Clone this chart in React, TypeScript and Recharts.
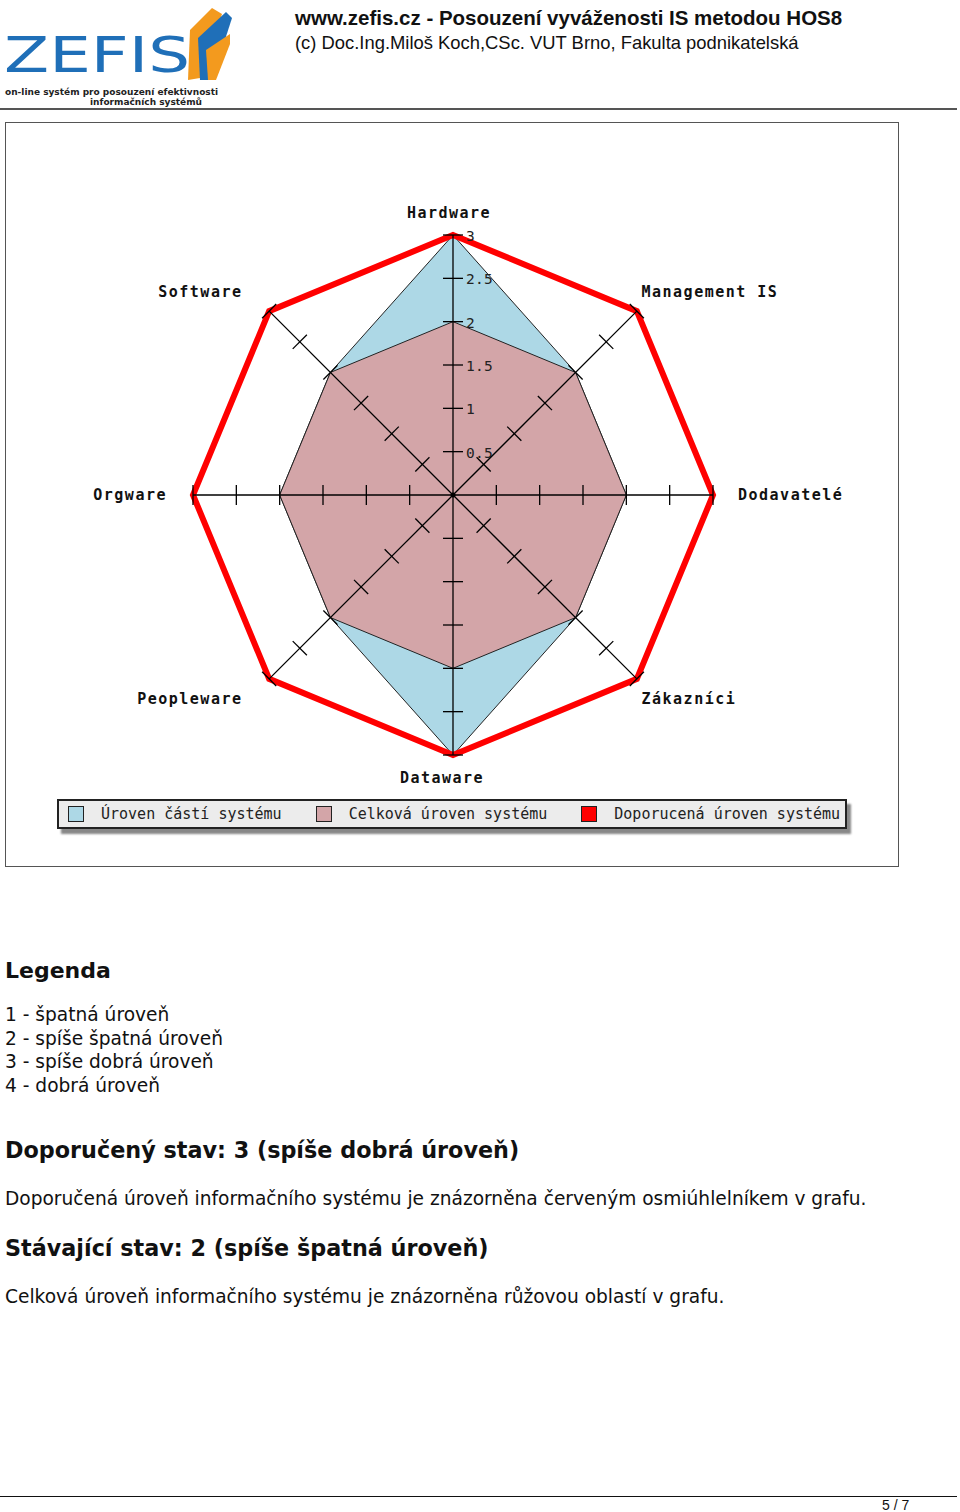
import { RadarChart, Radar, PolarAngleAxis, PolarRadiusAxis, Legend } from "recharts";

const oblasti = [
  "Hardware",
  "Management IS",
  "Dodavatelé",
  "Zákazníci",
  "Dataware",
  "Peopleware",
  "Orgware",
  "Software",
];
const urovenCasti = [3, 2, 2, 2, 3, 2, 2, 2];
const celkovaUroven = [2, 2, 2, 2, 2, 2, 2, 2];
const doporucenaUroven = [3, 3, 3, 3, 3, 3, 3, 3];
const radiusTicks = [0, 0.5, 1, 1.5, 2, 2.5, 3];
const radiusTickLabels = ["", "0.5", "1", "1.5", "2", "2.5", "3"];

const poradiSerii = ["casti", "celkova", "doporucena"];
const nazvySerii: Record<string, string> = {
  casti: "Úroven částí systému",
  celkova: "Celková úroven systému",
  doporucena: "Doporucená úroven systému",
};

const data = oblasti.map((nazev, i) => ({
  nazev,
  casti: urovenCasti[i],
  celkova: celkovaUroven[i],
  doporucena: doporucenaUroven[i],
}));

const MODRA = "#add8e6";
const RUZOVA = "#d3a5a8";
const CERVENA = "#ff0000";
const barvy: Record<string, string> = { casti: MODRA, celkova: RUZOVA, doporucena: CERVENA };

const mono = "'DejaVu Sans Mono', monospace";
const sans = "'DejaVu Sans', sans-serif";
const arial = "'Liberation Sans', Arial, sans-serif";

const CX = 447;
const CY = 372;
const uhly = oblasti.map((_, i) => 90 - i * 45);

// ticks of the vertical (Hardware) radius axis; the same radius is marked on every spoke
function radiusTick(props: any) {
  const { x, y, payload } = props;
  const v = payload.value;
  if (v === 0) return <circle cx={x} cy={y} r={2.5} fill="#000" />;
  const r = CY - y;
  const idx = radiusTicks.indexOf(v);
  return (
    <g>
      {uhly.map((a) => {
        const rad = (a * Math.PI) / 180;
        const tx = CX + r * Math.cos(rad);
        const ty = CY - r * Math.sin(rad);
        const px = Math.sin(rad) * 10;
        const py = Math.cos(rad) * 10;
        return (
          <g key={a}>
            {v === 3 && a !== 90 && (
              <line x1={CX} y1={CY} x2={tx} y2={ty} stroke="#000" strokeWidth={1.3} />
            )}
            <line x1={tx - px} y1={ty - py} x2={tx + px} y2={ty + py} stroke="#000" strokeWidth={1.3} />
          </g>
        );
      })}
      <text x={x + 13} y={y + 6} fontFamily={mono} fontSize={14.5} fill="#222" letterSpacing={0.3}>
        {radiusTickLabels[idx]}
      </text>
    </g>
  );
}

function angleTick(props: any) {
  const { x, y, payload } = props;
  const dx = x - CX;
  const dy = y - CY;
  let anchor: "start" | "middle" | "end" = "middle";
  let ox = 0;
  let oy = 0;
  if (Math.abs(dx) < 2) {
    if (dy < 0) {
      ox = -4;
      oy = -9;
    } else {
      ox = -11;
      oy = 20;
    }
  } else if (Math.abs(dy) < 2) {
    if (dx > 0) {
      anchor = "start";
      ox = 17;
    } else {
      anchor = "end";
      ox = -18;
    }
    oy = 5;
  } else {
    if (dx > 0) {
      anchor = "start";
      ox = -1;
    } else {
      anchor = "end";
      ox = -21;
    }
    oy = dy < 0 ? -8 : 19;
  }
  return (
    <text
      x={x + ox}
      y={y + oy}
      textAnchor={anchor}
      fontFamily={mono}
      fontWeight="bold"
      fontSize={15}
      letterSpacing={1.5}
      fill="#111"
    >
      {payload.value}
    </text>
  );
}

function LegendContent(props: any) {
  const payload: any[] = props.payload || [];
  const polozky = poradiSerii
    .map((k) => payload.find((e) => e.dataKey === k))
    .filter(Boolean);
  return (
    <div
      style={{
        display: "flex",
        alignItems: "center",
        height: 30,
        width: 790,
        background: "#ececec",
        border: "2px solid #222",
        boxShadow: "4px 5px 2px #888",
        paddingLeft: 9,
        boxSizing: "border-box",
        fontFamily: mono,
        fontSize: 15,
        color: "#222",
        whiteSpace: "nowrap",
      }}
    >
      {polozky.map((e: any) => (
        <div key={e.dataKey} style={{ display: "flex", alignItems: "center", marginRight: 34, flex: "none" }}>
          <span
            style={{
              display: "inline-block",
              width: 14,
              height: 14,
              background: barvy[e.dataKey],
              border: "1.5px solid #222",
              marginRight: 17,
            }}
          />
          <span>{e.value}</span>
        </div>
      ))}
    </div>
  );
}

export default function App() {
  return (
    <div style={{ position: "absolute", left: 0, top: 0, width: 960, height: 1512, background: "#fff" }}>
      {/* logo */}
      <svg style={{ position: "absolute", left: 0, top: 0 }} width={240} height={108}>
        <text x={4} y={72} fontFamily={sans} fontSize={50} fill="#1f6fb8" textLength={186} lengthAdjust="spacingAndGlyphs">
          ZEFIS
        </text>
        <polygon points="190,30 212,8 222,14 200,78 188,80" fill="#f39a1e" />
        <polygon points="198,38 226,12 232,18 212,80 200,80" fill="#1f6fb8" />
        <polygon points="206,50 230,34 230,44 216,80 208,80" fill="#f39a1e" />
        <text x={5} y={95} fontFamily={sans} fontSize={9} fill="#222" fontWeight="bold">
          on-line systém pro posouzení efektivnosti
        </text>
        <text x={90} y={105} fontFamily={sans} fontSize={9} fill="#222" fontWeight="bold">
          informačních systémů
        </text>
      </svg>
      <div style={{ position: "absolute", left: 295, top: 6, fontFamily: arial, fontSize: 20.5, fontWeight: "bold", color: "#111", whiteSpace: "nowrap" }}>
        www.zefis.cz - Posouzení vyváženosti IS metodou HOS8
      </div>
      <div style={{ position: "absolute", left: 295, top: 32, fontFamily: arial, fontSize: 18.4, color: "#111", whiteSpace: "nowrap" }}>
        (c) Doc.Ing.Miloš Koch,CSc. VUT Brno, Fakulta podnikatelská
      </div>
      <div style={{ position: "absolute", left: 0, top: 108, width: 957, height: 2, background: "#555" }} />

      {/* graf */}
      <div style={{ position: "absolute", left: 5, top: 122, width: 892, height: 743, border: "1px solid #555" }}>
        <RadarChart
          width={892}
          height={743}
          data={data}
          cx={CX}
          cy={CY}
          outerRadius={260}
          margin={{ top: 0, right: 0, bottom: 0, left: 0 }}
        >
          <PolarAngleAxis dataKey="nazev" axisLine={false} tickLine={false} tick={angleTick} />
          <Radar
            dataKey="casti"
            name={nazvySerii.casti}
            fill={MODRA}
            fillOpacity={1}
            stroke="#222"
            strokeWidth={1}
            isAnimationActive={false}
          />
          <Radar
            dataKey="celkova"
            name={nazvySerii.celkova}
            fill={RUZOVA}
            fillOpacity={1}
            stroke="#222"
            strokeWidth={1}
            isAnimationActive={false}
          />
          <Radar
            dataKey="doporucena"
            name={nazvySerii.doporucena}
            fill="none"
            fillOpacity={0}
            stroke={CERVENA}
            strokeWidth={6}
            strokeLinejoin="miter"
            isAnimationActive={false}
          />
          <PolarRadiusAxis
            angle={90}
            type="number"
            domain={[0, 3]}
            ticks={radiusTicks}
            tickCount={7}
            axisLine={{ stroke: "#000", strokeWidth: 1.3 }}
            tick={radiusTick}
          />
          <Legend
            content={LegendContent}
            wrapperStyle={{ position: "absolute", left: 51, top: 676, width: 790, height: 30 }}
          />
        </RadarChart>
      </div>

      {/* text pod grafem */}
      <div style={{ position: "absolute", left: 5, top: 958, fontFamily: sans, fontSize: 22, fontWeight: "bold", color: "#111" }}>
        Legenda
      </div>
      <div style={{ position: "absolute", left: 5, top: 1003, fontFamily: sans, fontSize: 18.6, lineHeight: "23.5px", color: "#111", whiteSpace: "nowrap" }}>
        <div>1 - špatná úroveň</div>
        <div>2 - spíše špatná úroveň</div>
        <div>3 - spíše dobrá úroveň</div>
        <div>4 - dobrá úroveň</div>
      </div>
      <div style={{ position: "absolute", left: 5, top: 1137, fontFamily: sans, fontSize: 22.3, fontWeight: "bold", color: "#111", whiteSpace: "nowrap" }}>
        Doporučený stav: 3 (spíše dobrá úroveň)
      </div>
      <div style={{ position: "absolute", left: 5, top: 1188, fontFamily: sans, fontSize: 18.6, color: "#111", whiteSpace: "nowrap" }}>
        Doporučená úroveň informačního systému je znázorněna červeným osmiúhlelníkem v grafu.
      </div>
      <div style={{ position: "absolute", left: 5, top: 1235, fontFamily: sans, fontSize: 22.3, fontWeight: "bold", color: "#111", whiteSpace: "nowrap" }}>
        Stávající stav: 2 (spíše špatná úroveň)
      </div>
      <div style={{ position: "absolute", left: 5, top: 1286, fontFamily: sans, fontSize: 18.6, color: "#111", whiteSpace: "nowrap" }}>
        Celková úroveň informačního systému je znázorněna růžovou oblastí v grafu.
      </div>

      {/* paticka */}
      <div style={{ position: "absolute", left: 0, top: 1496, width: 957, height: 1, background: "#111" }} />
      <div style={{ position: "absolute", left: 882, top: 1497, fontFamily: arial, fontSize: 14, color: "#111" }}>
        5 / 7
      </div>
    </div>
  );
}
